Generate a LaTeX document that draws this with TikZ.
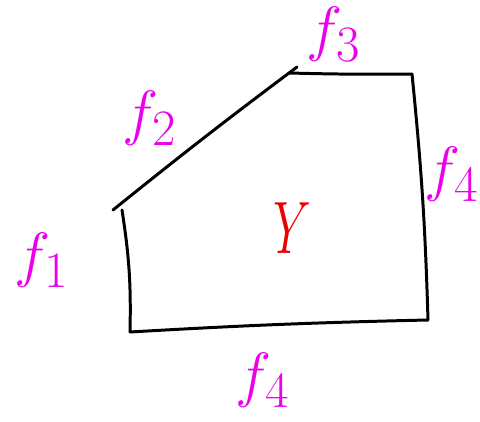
\documentclass[tikz,border=0pt]{standalone}
\usepackage{amsmath}
\usepackage{graphicx}
\usepackage{xcolor}
\usetikzlibrary{positioning}

\definecolor{penpink}{RGB}{236,0,236}
\definecolor{penred}{RGB}{236,0,0}
\newcommand{\biglabel}[2][1.4]{\scalebox{#1}{\Huge$#2$}}

\begin{document}
\begin{tikzpicture}[
    x=0.02cm, y=-0.02cm,
    edge/.style={draw, black, line width=1.7pt, line cap=round, line join=round},
    face/.style={text=penpink, inner sep=0pt},
    region/.style={text=penred, inner sep=0pt}
]
\useasboundingbox (0,0) rectangle (480,422);

% Corners (pixel grid, y down)
\coordinate (a) at (122,210);
\coordinate (b) at (130,332);
\coordinate (c) at (428,320);
\coordinate (d) at (412,74);
\coordinate (e) at (289,73);
\coordinate (f) at (297,67);
\coordinate (g) at (113,210);

% Edges
\draw[edge] (a) to[bend left=5] (b);
\draw[edge] (b) to[bend left=1] (c);
\draw[edge] (c) to[bend right=2] (d);
\draw[edge] (d) to[bend left=1] (e);
\draw[edge] (g) to[bend left=1] (f);

% Labels
\node[face] (f1) at (42,260) {\biglabel{f_1}};
\node[face] (f2) at (150,118) {\biglabel{f_2}};
\node[face] (f3) at (334,34) {\biglabel{f_3}};
\node[face] (f4r) at (452,174) {\biglabel{f_4}};
\node[face] (f4b) at (263,380) {\biglabel{f_4}};
\node[region] (y) at (292,228) {\scalebox{1.1}[1.7]{\Huge$Y$}};

\end{tikzpicture}
\end{document}
